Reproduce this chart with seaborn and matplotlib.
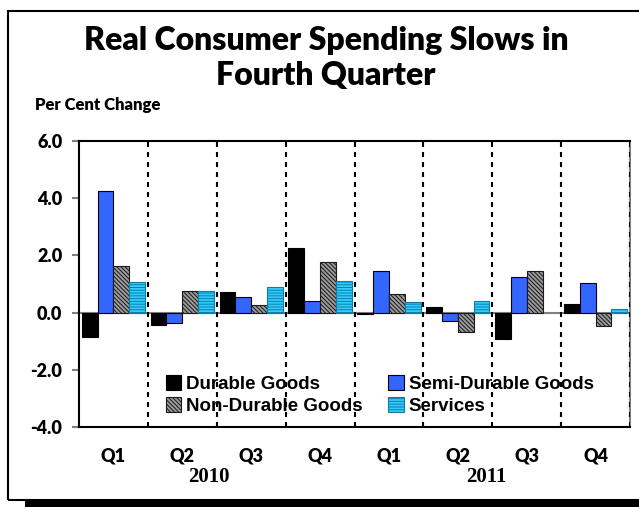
#Importing packages
import pandas as pd
import numpy as np
import matplotlib.pyplot as plt
from matplotlib.patches import Rectangle
import seaborn as sns

#chart data (per cent change, quarter over quarter)
periods = ['2010Q1', '2010Q2', '2010Q3', '2010Q4', '2011Q1', '2011Q2', '2011Q3', '2011Q4']
quarter_labels = ['Q1', 'Q2', 'Q3', 'Q4', 'Q1', 'Q2', 'Q3', 'Q4']
years = ['2010', '2011']
series_names = ['Durable Goods', 'Semi-Durable Goods', 'Non-Durable Goods', 'Services']
durable = [-0.85, -0.43, 0.71, 2.25, -0.06, 0.21, -0.94, 0.29]
semi_durable = [4.26, -0.35, 0.54, 0.40, 1.45, -0.30, 1.26, 1.02]
non_durable = [1.63, 0.75, 0.27, 1.77, 0.64, -0.67, 1.45, -0.48]
services = [1.06, 0.75, 0.90, 1.12, 0.36, 0.42, 0.0, 0.12]
y_ticks = [-4, -2, 0, 2, 4, 6]

#building long form table for seaborn
df = pd.DataFrame({
    'period': periods * 4,
    'series': np.repeat(series_names, len(periods)),
    'value': durable + semi_durable + non_durable + services,
})

plt.rcParams['hatch.linewidth'] = 0.7
fig = plt.figure(figsize=(6.39, 5.07), dpi=100)
ax = fig.add_axes([79 / 639, 1 - 427 / 507, 551 / 639, 286 / 507])

colours = ['#000000', '#3366FF', '#9A9A9A', '#33CCFF']
sns.barplot(data=df, x='period', y='value', hue='series', hue_order=series_names,
            order=periods, palette=colours, saturation=1, width=0.92, gap=0,
            edgecolor='black', linewidth=0.8, legend=False, ax=ax, zorder=3)

#patterns for non-durable and services bars
for bar in ax.containers[2]:
    bar.set_hatch('\\\\\\\\\\\\\\\\')
    bar.set_edgecolor('#1A1A1A')
for bar in ax.containers[3]:
    bar.set_hatch('------')
    bar.set_edgecolor('#0A7FA8')
for cont in ax.containers:
    for bar in cont:
        if bar.get_height() == 0:
            bar.set_linewidth(0)

#zero line and dotted quarter separators
ax.axhline(0, color='#808080', linewidth=1.5, zorder=2)
for x in np.arange(0.5, len(periods), 1.0):
    ax.axvline(x, color='black', linewidth=1.5, linestyle=(0, (2.4, 2.4)), zorder=4)

ax.set_xlim(-0.5, len(periods) - 0.5)
ax.set_ylim(-4, 6)
ax.set_yticks(y_ticks)
ax.set_yticklabels(['%.1f' % v for v in y_ticks], fontfamily='Lato', fontweight='heavy', fontsize=13)
ax.set_xticks(range(len(periods)))
ax.set_xticklabels(quarter_labels, fontfamily='Lato', fontweight='heavy', fontsize=13)
ax.tick_params(axis='x', length=0, pad=15)
ax.tick_params(axis='y', length=5, width=1.5, color='#808080', pad=7)
ax.set_xlabel('')
ax.set_ylabel('')
for side in ['left', 'top', 'bottom']:
    ax.spines[side].set_color('black')
    ax.spines[side].set_linewidth(1.5)
ax.spines['right'].set_color('#808080')
ax.spines['right'].set_linewidth(1.5)

#year labels under the quarters
ax.text(1.39, -5.75, years[0], ha='center', va='center', fontfamily='Liberation Serif',
        fontweight='bold', fontsize=15)
ax.text(5.42, -5.75, years[1], ha='center', va='center', fontfamily='Liberation Serif',
        fontweight='bold', fontsize=15)

#legend, filled column by column so rows read Durable/Semi then Non-Durable/Services
handles = [ax.containers[i].patches[0] for i in [0, 2, 1, 3]]
labels = [series_names[i] for i in [0, 2, 1, 3]]
ax.legend(handles, labels, ncol=2, loc='lower left', bbox_to_anchor=(0.14, 0.01),
          frameon=False, prop={'family': 'Liberation Sans', 'weight': 'bold', 'size': 13.5},
          handlelength=0.85, handleheight=0.85, handletextpad=0.25, columnspacing=1.35,
          labelspacing=0.22, borderpad=0)

#titles
fig.text(326 / 639, 1 - 26 / 507, 'Real Consumer Spending Slows in\nFourth Quarter', ha='center',
         va='top', fontfamily='Lato', fontweight='heavy', fontsize=23, linespacing=1.25)
fig.text(35 / 639, 1 - 110 / 507, 'Per Cent Change', ha='left', va='baseline',
         fontfamily='Lato', fontweight='heavy', fontsize=12)

#outer box and shadow
fig.patches.append(Rectangle((8 / 639, 7 / 507), 1.0, 1 - 18 / 507, transform=fig.transFigure,
                             fill=False, edgecolor='black', linewidth=1.5))
fig.patches.append(Rectangle((25 / 639, 0), 1.0, 7 / 507, transform=fig.transFigure,
                             facecolor='black', edgecolor='none'))

#saving plot
plt.savefig('out.png', dpi=100)
